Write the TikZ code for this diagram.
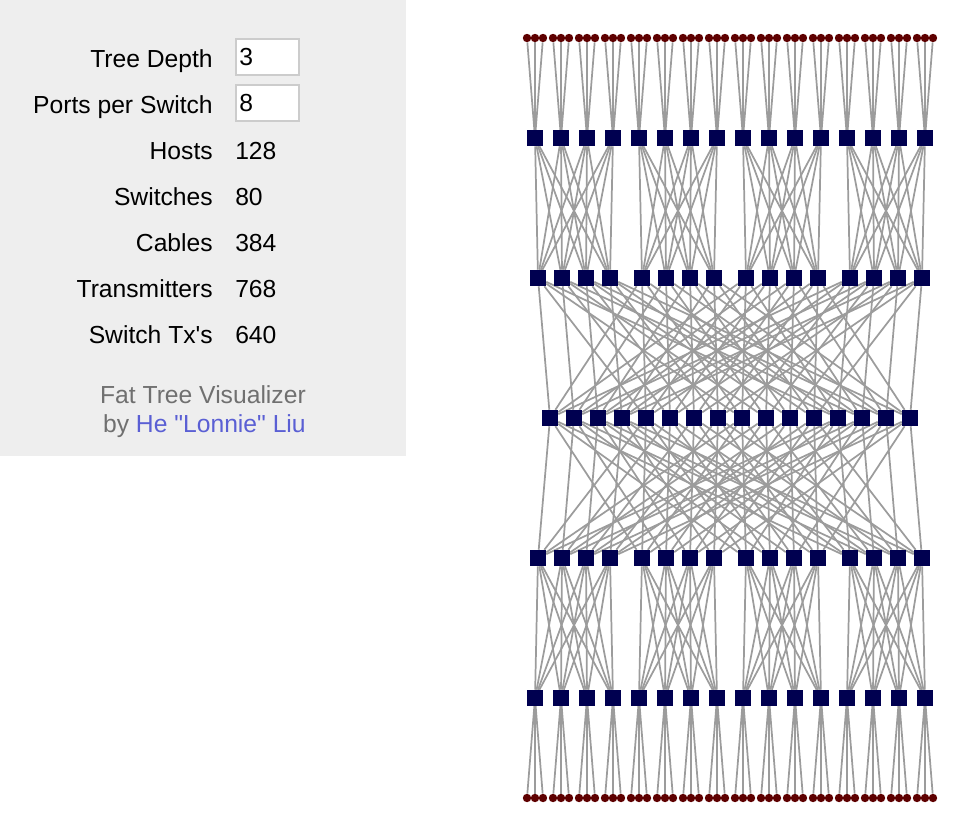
\documentclass[tikz,border=0pt]{standalone}
\usepackage{fontspec}
\setmainfont{Liberation Sans}
\usetikzlibrary{backgrounds}
\definecolor{hostred}{HTML}{5E0000}
\definecolor{switchblue}{HTML}{000050}
\definecolor{cablegray}{HTML}{9C9C9C}
\definecolor{panelgray}{HTML}{EEEEEE}
\definecolor{fadetext}{HTML}{707070}
\definecolor{linkblue}{HTML}{5A5FD4}
\tikzstyle{host}=[circle,fill=hostred,inner sep=0pt,minimum size=6.3pt]
\tikzstyle{switch}=[rectangle,fill=switchblue,inner sep=0pt,minimum size=12pt]
\tikzstyle{cable}=[draw=cablegray,line width=1.3pt]
\tikzstyle{lbl}=[anchor=base east,inner sep=0pt,font=\fontsize{18.5}{22}\selectfont]
\tikzstyle{val}=[anchor=base west,inner sep=0pt,font=\fontsize{18.5}{22}\selectfont]
\tikzstyle{field}=[draw=black!20,line width=1.3pt,fill=white,anchor=west,minimum height=27pt,text width=42pt,inner xsep=2.6pt,font=\fontsize{18.5}{22}\selectfont]

\begin{document}
\begin{tikzpicture}[x=0.75pt,y=-0.75pt]
\useasboundingbox (0,0) rectangle (958,814);
% settings panel
\fill [panelgray] (0,0) rectangle (406,456);
\node (depthlbl) [lbl] at (213,67) {Tree Depth};
\node (depthbox) [field] at (235,57) {3};
\node (portslbl) [lbl] at (213,113) {Ports per Switch};
\node (portsbox) [field] at (235,103) {8};
\node (hostslbl) [lbl] at (213,159) {Hosts};
\node (hostsval) [val] at (235,159) {128};
\node (switchlbl) [lbl] at (213,205) {Switches};
\node (switchval) [val] at (235,205) {80};
\node (cablelbl) [lbl] at (213,251) {Cables};
\node (cableval) [val] at (235,251) {384};
\node (txlbl) [lbl] at (213,297) {Transmitters};
\node (txval) [val] at (235,297) {768};
\node (swtxlbl) [lbl] at (213,343) {Switch Tx\textquotesingle s};
\node (swtxval) [val] at (235,343) {640};
\node (title) [lbl,text=fadetext] at (306,403) {Fat Tree Visualizer};
\node (byline) [lbl,text=fadetext] at (306,432) {by \textcolor{linkblue}{He \textquotedbl Lonnie\textquotedbl\ Liu}};

% switches and hosts
\foreach \i in {0,...,15} {
  \pgfmathsetmacro\posE{535+26*\i}
  \pgfmathsetmacro\posA{538+104*int(\i/4)+24*mod(\i,4)}
  \pgfmathsetmacro\posC{550+24*\i}
  \node (et\i) [switch] at (\posE,138) {};
  \node (eb\i) [switch] at (\posE,698) {};
  \node (at\i) [switch] at (\posA,278) {};
  \node (ab\i) [switch] at (\posA,558) {};
  \node (c\i) [switch] at (\posC,418) {};
  \foreach \k in {1,2,3} {
    \pgfmathsetmacro\posH{\posE+8*(\k-2)}
    \node (ht\i-\k) [host] at (\posH,38) {};
    \node (hb\i-\k) [host] at (\posH,798) {};
  }
}

% cables
\begin{scope}[on background layer]
\foreach \i in {0,...,15} {
  \foreach \k in {1,2,3} {
    \draw [cable] (ht\i-\k) -- (et\i);
    \draw [cable] (hb\i-\k) -- (eb\i);
  }
  \pgfmathtruncatemacro\pod{int(\i/4)}
  \pgfmathtruncatemacro\slot{mod(\i,4)}
  \foreach \m in {0,...,3} {
    \pgfmathtruncatemacro\peer{4*\pod+\m}
    \pgfmathtruncatemacro\core{\slot+4*\m}
    \draw [cable] (et\i) -- (at\peer);
    \draw [cable] (eb\i) -- (ab\peer);
    \draw [cable] (at\i) -- (c\core);
    \draw [cable] (ab\i) -- (c\core);
  }
}
\end{scope}
\end{tikzpicture}
\end{document}
